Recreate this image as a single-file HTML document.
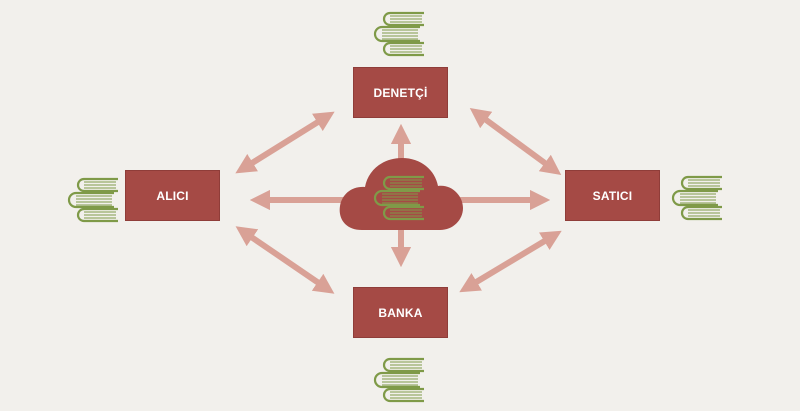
<!DOCTYPE html>
<html><head><style>
html,body{margin:0;padding:0;}
body{width:800px;height:411px;background:#f2f0ec;overflow:hidden;position:relative;font-family:"Liberation Sans",sans-serif;}
.box{position:absolute;width:95px;height:51px;background:#a54a45;border:1px solid #8f3d39;box-sizing:border-box;color:#fff;font-size:12px;font-weight:bold;display:flex;align-items:center;justify-content:center;letter-spacing:0.2px;}
svg{position:absolute;left:0;top:0;}
</style></head><body>
<svg width="800" height="411" viewBox="0 0 800 411">
<defs>
<marker id="a" markerWidth="3.4" markerHeight="3.4" refX="1.7" refY="1.7" orient="auto-start-reverse" markerUnits="strokeWidth">
<path d="M0,0 L3.4,1.7 L0,3.4 z" fill="#d9a196"/></marker>
<g id="bk" fill="none" stroke="#7f9a48" stroke-width="2.2">
<path d="M48,2 H14 a6,6 0 0 0 0,12 H48"/>
<path d="M14,5 H46 M14,8 H46 M14,11 H46" stroke-width="1"/>
<path d="M44,16 H6 a6,6 0 0 0 0,14 H44"/>
<path d="M6,19 H42 M6,22 H42 M6,25 H42 M6,28 H42" stroke-width="1"/>
<path d="M48,32 H14 a6,6 0 0 0 0,12 H48"/>
<path d="M14,35 H46 M14,38 H46 M14,41 H46" stroke-width="1"/>
</g>
</defs>
<g stroke="#d9a196" stroke-width="6" marker-start="url(#a)" marker-end="url(#a)">
<line x1="244" y1="168" x2="326" y2="117"/>
<line x1="478" y1="114" x2="553" y2="169"/>
<line x1="244" y1="232" x2="326" y2="288"/>
<line x1="468" y1="287" x2="553" y2="236"/>
</g>
<g stroke="#d9a196" stroke-width="6" marker-end="url(#a)">
<line x1="350" y1="200" x2="260" y2="200"/>
<line x1="450" y1="200" x2="540" y2="200"/>
<line x1="401" y1="165" x2="401" y2="134"/>
<line x1="401" y1="225" x2="401" y2="257"/>
</g>
<path d="M362,230 C345,230 338,218 340,206 C342,194 352,186 365,187 C368,170 383,158 402,158 C421,158 435,170 438,186 C452,184 463,196 463,208 C463,220 453,230 440,230 z" fill="#a54a45"/>
<use href="#bk" x="376" y="175"/>
<use href="#bk" x="376" y="11"/>
<use href="#bk" x="70" y="177"/>
<use href="#bk" x="674" y="175"/>
<use href="#bk" x="376" y="357"/>
</svg>
<div class="box" style="left:353px;top:67px;">DENETÇİ</div>
<div class="box" style="left:125px;top:170px;">ALICI</div>
<div class="box" style="left:565px;top:170px;">SATICI</div>
<div class="box" style="left:353px;top:287px;">BANKA</div>
</body></html>
